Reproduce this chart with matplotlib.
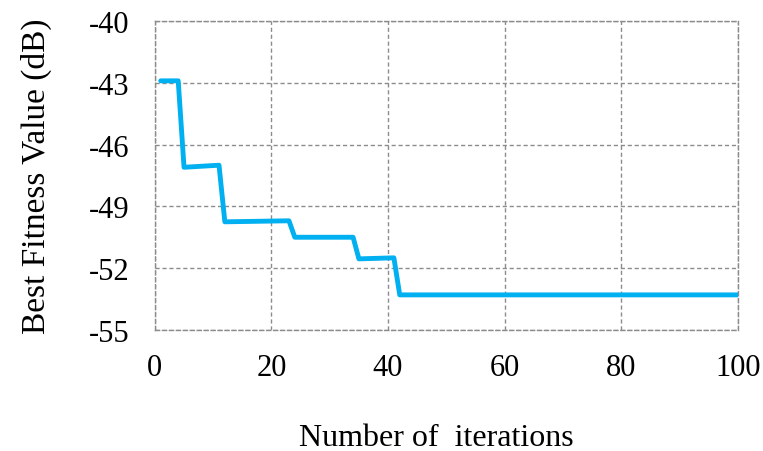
import matplotlib
matplotlib.use("Agg")
import matplotlib.pyplot as plt
import numpy as np

plt.rcParams.update({
    "font.family": ["Liberation Serif", "DejaVu Serif"],
    "font.size": 22,
    "axes.unicode_minus": False,
})

# Breakpoints of the convergence curve (iteration, best fitness in dB)
iterations = [1, 4, 5, 11, 12, 23, 24, 34, 35, 41, 42, 100]
best_fitness = [-42.9, -42.9, -47.1, -47.0, -49.75, -49.7, -50.5, -50.5,
                -51.55, -51.5, -53.3, -53.3]

x_ticks = [0, 20, 40, 60, 80, 100]
y_ticks = [-55, -52, -49, -46, -43, -40]

LINE = "#00B0F0"
GRID = "#8c8c8c"

fig = plt.figure(figsize=(7.63, 4.52), dpi=100)
ax = fig.add_axes([0.203, 0.268, 0.764, 0.683])

ax.plot(iterations, best_fitness, color=LINE, lw=3.5,
        solid_joinstyle="round", solid_capstyle="round", zorder=3)

ax.set_xlim(0, 100)
ax.set_ylim(-55, -40)
ax.set_xticks(x_ticks)
ax.set_yticks(y_ticks)
ax.tick_params(length=0, labelsize=22)
ax.tick_params(axis="x", pad=17)
ax.tick_params(axis="y", pad=18.5)

ax.grid(True, color=GRID, ls=(0, (3, 2)), lw=1.0)
for s in ax.spines.values():
    s.set_color(GRID)
    s.set_linestyle((0, (3, 2)))
    s.set_linewidth(1.0)

ax.set_xlabel("Number of  iterations", fontsize=23, labelpad=29)
ax.xaxis.label.set_x(0.482)
ax.set_ylabel("Best Fitness Value (dB)", fontsize=24, labelpad=26)

fig.savefig("out.png", dpi=100)
